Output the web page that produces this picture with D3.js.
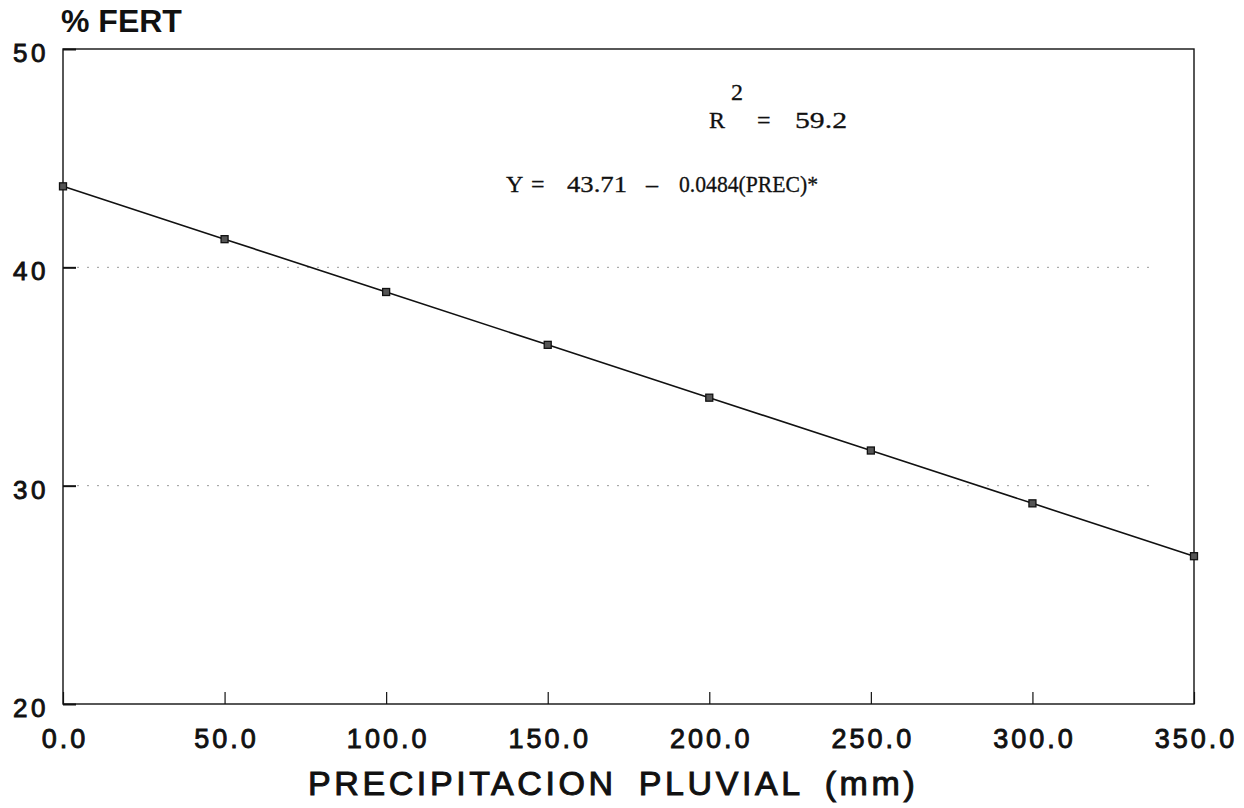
<!DOCTYPE html>
<html>
<head>
<meta charset="utf-8">
<script src="https://cdn.jsdelivr.net/npm/d3@7"></script>
<style>
  html, body { margin: 0; padding: 0; background: #fff; }
  svg { display: block; }
  .sans { font-family: "Liberation Sans", Arial, Helvetica, sans-serif; }
  .serif { font-family: "Liberation Serif", "DejaVu Serif", serif; }
</style>
</head>
<body>
<svg id="chart" width="1244" height="808"></svg>
<script>
// Fitted line: Y = 43.71 - 0.0484 (PREC), evaluated at every 50 mm
const precipitation = [0, 50, 100, 150, 200, 250, 300, 350];
const fertility = [43.71, 41.29, 38.87, 36.45, 34.03, 31.61, 29.19, 26.77];
const xTicks = [0, 50, 100, 150, 200, 250, 300, 350];
const yTicks = [20, 30, 40, 50];
const gridValues = [30, 40];

const svg = d3.select("#chart");
const ink = "#111";

const x = d3.scaleLinear().domain([0, 350]).range([63, 1194]);
const y = d3.scaleLinear().domain([20, 50]).range([704, 49]);

// faint dotted reference lines
svg.append("g")
  .selectAll("line")
  .data(gridValues)
  .join("line")
  .attr("x1", x(0) + 14)
  .attr("x2", x(338))
  .attr("y1", d => y(d))
  .attr("y2", d => y(d))
  .attr("stroke", "#9a9a9a")
  .attr("stroke-width", 1)
  .attr("stroke-dasharray", "2,8");

// frame
svg.append("rect")
  .attr("x", x(0))
  .attr("y", y(50))
  .attr("width", x(350) - x(0))
  .attr("height", y(20) - y(50))
  .attr("fill", "none")
  .attr("stroke", ink)
  .attr("stroke-width", 1.4);

// x axis (ticks point inward)
const xAxis = svg.append("g")
  .attr("transform", `translate(0,${y(20)})`)
  .call(d3.axisBottom(x)
    .tickValues(xTicks)
    .tickSize(-12)
    .tickPadding(25)
    .tickFormat(d3.format(".1f")));
xAxis.select(".domain").remove();
xAxis.selectAll(".tick line").attr("stroke", ink).attr("stroke-width", 1.2);
xAxis.selectAll(".tick text")
  .attr("class", "sans")
  .attr("fill", ink)
  .attr("stroke", ink)
  .attr("stroke-width", 0.9)
  .attr("dx", "1.5px")
  .style("font-size", "27px")
  .style("letter-spacing", "3px");

// y axis (ticks point inward)
const yAxis = svg.append("g")
  .attr("transform", `translate(${x(0)},0)`)
  .call(d3.axisLeft(y)
    .tickValues(yTicks)
    .tickSize(-13)
    .tickPadding(14)
    .tickFormat(d3.format("d")));
yAxis.select(".domain").remove();
yAxis.selectAll(".tick line").attr("stroke", ink).attr("stroke-width", 2);
yAxis.selectAll(".tick text")
  .attr("class", "sans")
  .attr("fill", ink)
  .attr("stroke", ink)
  .attr("stroke-width", 0.9)
  .attr("dy", "0.48em")
  .style("font-size", "26px")
  .style("letter-spacing", "3.5px");

// regression line
const line = d3.line()
  .x((d, i) => x(precipitation[i]))
  .y(d => y(d));
svg.append("path")
  .datum(fertility)
  .attr("d", line)
  .attr("fill", "none")
  .attr("stroke", ink)
  .attr("stroke-width", 1.6);

// square markers
svg.append("g")
  .selectAll("rect")
  .data(fertility)
  .join("rect")
  .attr("x", (d, i) => x(precipitation[i]) - 3.5)
  .attr("y", d => y(d) - 3.5)
  .attr("width", 7)
  .attr("height", 7)
  .attr("fill", "#555")
  .attr("stroke", ink)
  .attr("stroke-width", 1.3);

// y axis title
svg.append("text")
  .attr("class", "sans")
  .attr("x", 61)
  .attr("y", 32)
  .attr("fill", ink)
  .style("font-size", "32px")
  .style("font-weight", "bold")
  .text("% FERT");

// x axis title
svg.append("text")
  .attr("class", "sans")
  .attr("x", 308)
  .attr("y", 795)
  .attr("fill", ink)
  .attr("stroke", ink)
  .attr("stroke-width", 1)
  .style("font-size", "34px")
  .style("letter-spacing", "3.6px")
  .style("word-spacing", "9px")
  .text("PRECIPITACION PLUVIAL (mm)");

// annotation: coefficient of determination and fitted equation
const note = svg.append("g").attr("class", "serif")
  .attr("fill", ink).attr("stroke", ink).attr("stroke-width", 0.3)
  .style("font-size", "24px");
note.append("text").attr("x", 737).attr("y", 100).attr("text-anchor", "middle").text("2");
note.append("text").attr("x", 709).attr("y", 128).text("R");
note.append("text").attr("x", 757).attr("y", 128).text("=");
note.append("text").attr("x", 795).attr("y", 128)
  .attr("textLength", 52).attr("lengthAdjust", "spacingAndGlyphs").text("59.2");

note.append("text").attr("x", 506).attr("y", 192).text("Y");
note.append("text").attr("x", 531).attr("y", 192).text("=");
note.append("text").attr("x", 567).attr("y", 192)
  .attr("textLength", 60).attr("lengthAdjust", "spacingAndGlyphs").text("43.71");
note.append("text").attr("x", 646).attr("y", 192).text("\u2013");
note.append("text").attr("x", 679).attr("y", 192)
  .attr("textLength", 139).attr("lengthAdjust", "spacingAndGlyphs").text("0.0484(PREC)*");
</script>
</body>
</html>
